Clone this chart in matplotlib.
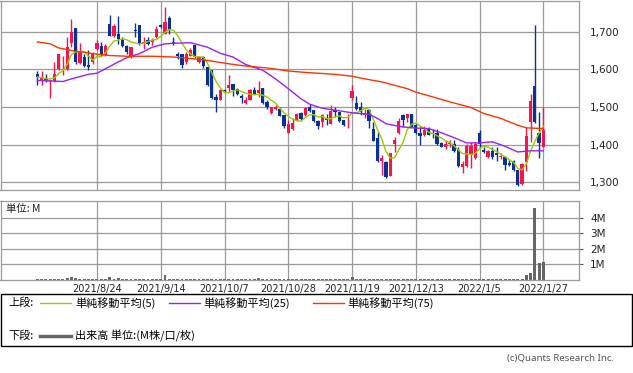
import numpy as np
import pandas as pd
import matplotlib
matplotlib.use('Agg')
import matplotlib.pyplot as plt
from matplotlib.lines import Line2D
from matplotlib.patches import Rectangle

plt.rcParams['font.family'] = ['DejaVu Sans', 'Noto Sans CJK JP']
JP = ['Noto Sans CJK JP', 'DejaVu Sans']

# daily candles (oldest first)
opens = [1587, 1573, 1575, 1568, 1568, 1600, 1611, 1602, 1670, 1711,
         1617, 1633, 1611, 1620, 1655, 1661, 1639, 1721, 1688, 1693,
         1677, 1661, 1633, 1706, 1717, 1670, 1677, 1673, 1686, 1717,
         1695, 1737, 1673, 1640, 1640, 1620, 1637, 1664, 1620, 1633,
         1606, 1598, 1527, 1520, 1546, 1552, 1562, 1549, 1529, 1511,
         1520, 1546, 1538, 1551, 1514, 1485, 1496, 1496, 1478, 1432,
         1443, 1465, 1485, 1478, 1499, 1492, 1463, 1461, 1472, 1456,
         1493, 1487, 1465, 1470, 1525, 1512, 1500, 1478, 1493, 1443,
         1419, 1357, 1355, 1318, 1402, 1430, 1478, 1470, 1481, 1452,
         1430, 1425, 1443, 1432, 1430, 1405, 1394, 1402, 1402, 1387,
         1342, 1344, 1372, 1364, 1432, 1386, 1368, 1384, 1379, 1368,
         1368, 1352, 1357, 1333, 1297, 1355, 1461, 1555, 1432, 1394]
highs = [1596, 1595, 1589, 1571, 1620, 1640, 1637, 1686, 1734, 1711,
         1671, 1642, 1651, 1646, 1679, 1673, 1668, 1745, 1721, 1741,
         1686, 1664, 1659, 1724, 1717, 1686, 1686, 1684, 1714, 1721,
         1767, 1743, 1686, 1646, 1642, 1646, 1658, 1664, 1637, 1637,
         1606, 1598, 1536, 1549, 1549, 1584, 1562, 1552, 1536, 1527,
         1549, 1553, 1568, 1551, 1518, 1500, 1505, 1499, 1478, 1465,
         1472, 1485, 1487, 1500, 1509, 1493, 1467, 1483, 1483, 1505,
         1500, 1487, 1467, 1483, 1558, 1529, 1514, 1496, 1496, 1461,
         1434, 1372, 1357, 1379, 1421, 1470, 1481, 1483, 1481, 1458,
         1446, 1449, 1447, 1443, 1443, 1408, 1412, 1412, 1412, 1394,
         1357, 1403, 1408, 1408, 1440, 1394, 1386, 1394, 1394, 1377,
         1370, 1359, 1359, 1333, 1352, 1447, 1534, 1717, 1487, 1499]
lows = [1560, 1560, 1567, 1524, 1567, 1598, 1584, 1598, 1659, 1615,
        1615, 1606, 1598, 1615, 1651, 1637, 1637, 1689, 1686, 1668,
        1659, 1642, 1631, 1686, 1666, 1655, 1666, 1664, 1684, 1711,
        1695, 1695, 1664, 1628, 1604, 1615, 1635, 1631, 1617, 1604,
        1555, 1522, 1487, 1518, 1540, 1540, 1529, 1531, 1511, 1509,
        1518, 1536, 1527, 1509, 1496, 1483, 1492, 1476, 1445, 1430,
        1440, 1463, 1465, 1477, 1487, 1461, 1443, 1446, 1452, 1455,
        1474, 1461, 1449, 1445, 1518, 1492, 1478, 1472, 1445, 1410,
        1355, 1321, 1313, 1317, 1381, 1428, 1446, 1461, 1446, 1428,
        1399, 1423, 1425, 1419, 1399, 1393, 1390, 1393, 1381, 1342,
        1324, 1342, 1339, 1362, 1394, 1379, 1366, 1361, 1357, 1361,
        1333, 1343, 1331, 1291, 1293, 1331, 1408, 1458, 1366, 1393]
closes = [1580, 1576, 1571, 1571, 1589, 1640, 1613, 1659, 1699, 1620,
          1646, 1608, 1606, 1642, 1671, 1642, 1661, 1690, 1714, 1681,
          1663, 1646, 1659, 1702, 1668, 1673, 1668, 1679, 1708, 1712,
          1726, 1705, 1670, 1635, 1611, 1640, 1651, 1633, 1633, 1608,
          1558, 1524, 1520, 1546, 1543, 1558, 1546, 1536, 1525, 1520,
          1545, 1536, 1545, 1511, 1499, 1499, 1500, 1477, 1449, 1455,
          1458, 1483, 1468, 1498, 1489, 1463, 1449, 1478, 1467, 1489,
          1487, 1463, 1452, 1472, 1543, 1496, 1487, 1485, 1463, 1410,
          1357, 1364, 1315, 1377, 1414, 1463, 1467, 1481, 1447, 1430,
          1424, 1440, 1427, 1428, 1401, 1394, 1403, 1405, 1384, 1344,
          1348, 1397, 1397, 1403, 1403, 1382, 1384, 1368, 1372, 1370,
          1346, 1346, 1333, 1293, 1350, 1423, 1516, 1461, 1405, 1440]

# volume in millions
volume = [0.04, 0.04, 0.04, 0.04, 0.04, 0.07, 0.04, 0.10, 0.20, 0.13,
          0.04, 0.04, 0.04, 0.04, 0.04, 0.04, 0.04, 0.20, 0.09, 0.16,
          0.04, 0.04, 0.04, 0.04, 0.04, 0.04, 0.04, 0.04, 0.07, 0.04,
          0.34, 0.07, 0.04, 0.04, 0.04, 0.04, 0.04, 0.04, 0.04, 0.04,
          0.07, 0.04, 0.07, 0.04, 0.04, 0.04, 0.04, 0.04, 0.04, 0.04,
          0.04, 0.04, 0.13, 0.04, 0.07, 0.04, 0.04, 0.04, 0.04, 0.04,
          0.04, 0.04, 0.04, 0.04, 0.04, 0.04, 0.04, 0.04, 0.04, 0.04,
          0.04, 0.04, 0.04, 0.04, 0.20, 0.04, 0.04, 0.04, 0.04, 0.07,
          0.04, 0.04, 0.07, 0.04, 0.07, 0.04, 0.04, 0.04, 0.04, 0.04,
          0.04, 0.04, 0.04, 0.04, 0.04, 0.04, 0.04, 0.04, 0.04, 0.04,
          0.07, 0.04, 0.04, 0.04, 0.07, 0.04, 0.04, 0.04, 0.04, 0.04,
          0.04, 0.04, 0.04, 0.04, 0.05, 0.33, 0.45, 4.65, 1.08, 1.15]

# 25 / 75 day averages (need history before the window)
ma25_idx = [0, 6, 8, 12, 14, 16, 19, 21, 24, 27, 30, 33, 36, 40, 43, 46, 49, 53,
            56, 59, 62, 64, 67, 70, 74, 78, 80, 82, 85, 88, 92, 95, 98, 101,
            104, 107, 110, 113, 116, 119]
ma25_val = [1571, 1568, 1575, 1587, 1590, 1602, 1620, 1631, 1642, 1659, 1668,
            1670, 1671, 1659, 1643, 1633, 1613, 1598, 1575, 1549, 1522, 1508,
            1497, 1492, 1485, 1481, 1470, 1456, 1449, 1445, 1443, 1432, 1419,
            1405, 1405, 1408, 1396, 1381, 1384, 1384]
ma75_idx = [0, 3, 5, 7, 9, 11, 13, 15, 17, 21, 27, 32, 37, 40, 45, 49, 54, 59,
            63, 66, 70, 74, 77, 81, 84, 87, 89, 93, 97, 102, 105, 109, 113,
            115, 119]
ma75_val = [1673, 1668, 1657, 1653, 1648, 1646, 1642, 1639, 1637, 1635, 1635,
            1633, 1628, 1624, 1615, 1609, 1604, 1596, 1592, 1590, 1587, 1582,
            1575, 1567, 1558, 1549, 1540, 1527, 1514, 1499, 1483, 1470, 1452,
            1445, 1443]

tick_idx = [14, 29, 44, 59, 74, 89, 104, 119]
tick_lbl = ['2021/8/24', '2021/9/14', '2021/10/7', '2021/10/28',
            '2021/11/19', '2021/12/13', '2022/1/5', '2022/1/27']

RED = '#f5144b'
BLUE = '#0a3296'
GRID = '#9a9a9a'

o = np.array(opens, float)
h = np.array(highs, float)
l = np.array(lows, float)
c = np.array(closes, float)
x = np.arange(len(c))
ma5 = pd.Series(c).rolling(5, min_periods=1).mean()

W, H = 633, 373
def box(x0, y0, x1, y1):
    return [x0 / W, 1 - y1 / H, (x1 - x0) / W, (y1 - y0) / H]

fig = plt.figure(figsize=(6.33, 3.73), dpi=100)
ax1 = fig.add_axes(box(0.5, 0.5, 579, 190))
ax2 = fig.add_axes(box(0.5, 201, 579, 280))

for ax in (ax1, ax2):
    ax.set_xlim(-8.7, 127.4)
    ax.set_xticks(tick_idx)
    ax.yaxis.tick_right()
    ax.grid(True, color=GRID, lw=0.9)
    ax.set_axisbelow(True)
    for s in ax.spines.values():
        s.set_color(GRID)
        s.set_linewidth(0.9)

# upper panel: candles + moving averages
up = c >= o
col = np.where(up, RED, BLUE)
body = np.abs(c - o)
ax1.vlines(x, l, h, colors=col, lw=1.0, zorder=2)
ax1.bar(x, np.maximum(body, 1.2), bottom=np.minimum(o, c) - np.where(body < 1.2, 0.6, 0),
        width=0.74, color=col, lw=0, zorder=2)
ax1.plot(x, ma5, color='#99cc00', lw=1.0, zorder=3)
ax1.plot(ma25_idx, ma25_val, color='#9b1fff', lw=1.0, zorder=3)
ax1.plot(ma75_idx, ma75_val, color='#ff3300', lw=1.0, zorder=3)
ax1.set_ylim(1280, 1783)
ax1.set_yticks([1300, 1400, 1500, 1600, 1700])
ax1.set_yticklabels(['{:,}'.format(v) for v in [1300, 1400, 1500, 1600, 1700]])
ax1.set_xticklabels([])
ax1.tick_params(axis='x', length=0)
ax1.tick_params(axis='y', length=0, pad=8, labelsize=7.5, labelcolor='#222222')

# lower panel: volume
ax2.bar(x, volume, width=0.7, color='#666666', lw=0, zorder=2)
ax2.set_ylim(0, 5.08)
ax2.set_yticks([1, 2, 3, 4])
ax2.set_yticklabels(['1M', '2M', '3M', '4M'])
ax2.set_xticklabels(tick_lbl)
ax2.tick_params(axis='x', length=0, pad=3, labelsize=7, labelcolor='#222222')
ax2.tick_params(axis='y', length=3, width=0.8, color='#555555', pad=5,
                labelsize=7.5, labelcolor='#222222')
ax2.text(0.01, 0.9, '単位: M', transform=ax2.transAxes, fontsize=7.5,
         family=JP, va='center', ha='left', color='#222222')

# legend box
fig.patches.append(Rectangle((0.5 / W, 1 - 346 / H), 631.5 / W, 52 / H,
                             transform=fig.transFigure, fill=False,
                             edgecolor='black', lw=1.0))
y_up = 1 - 303 / H
y_dn = 1 - 336 / H
fig.text(8 / W, y_up, '上段:', family=JP, fontsize=8, va='center')
fig.text(8 / W, y_dn, '下段:', family=JP, fontsize=8, va='center')
legend_items = [(40, '#99cc00', 75, '単純移動平均(5)'),
                (169, '#9b1fff', 203, '単純移動平均(25)'),
                (313, '#ff3300', 347, '単純移動平均(75)')]
for lx, lc, tx, txt in legend_items:
    fig.lines.append(Line2D([lx / W, (lx + 31) / W], [y_up, y_up],
                            transform=fig.transFigure, color=lc, lw=1.0))
    fig.text(tx / W, y_up, txt, family=JP, fontsize=8, va='center')
fig.lines.append(Line2D([40 / W, 71 / W], [y_dn, y_dn], transform=fig.transFigure,
                        color='#666666', lw=2.5))
fig.text(75 / W, y_dn, '出来高 単位:(M株/口/枚)', family=JP, fontsize=8, va='center')

fig.text(614 / W, 1 - 358 / H, '(c)Quants Research Inc.', family=['Noto Sans', 'DejaVu Sans'],
         fontsize=7, color='#555555', ha='right', va='center')

fig.savefig('out.png', dpi=100)
